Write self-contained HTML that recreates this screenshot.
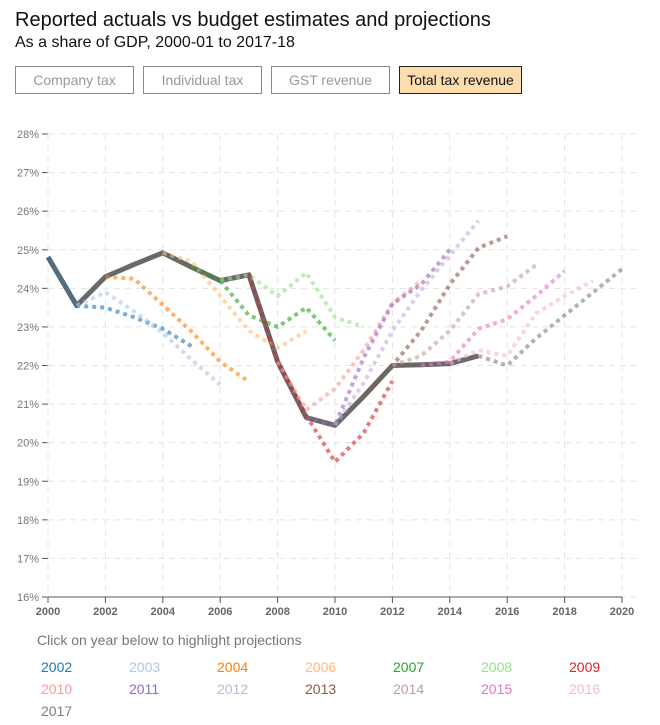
<!DOCTYPE html>
<html><head><meta charset="utf-8">
<style>
body{margin:0;background:#fff;font-family:"Liberation Sans",Arial,sans-serif;width:660px;height:725px;overflow:hidden;position:relative}
.t{position:absolute;left:15px;top:9px;font-size:20px;color:#111}
.s{position:absolute;left:15px;top:34px;font-size:16px;color:#111}
.b{position:absolute;top:66px;height:28px;border:1px solid #888;box-sizing:border-box;font-size:14px;color:#999;text-align:center;line-height:27px;background:#fff}
.b.on{background:#fddcae;color:#111;border-color:#222}
.hint{position:absolute;left:37px;top:632px;font-size:14px;color:#777}
.lg{position:absolute;font-size:14px}
</style></head><body>
<div class="t">Reported actuals vs budget estimates and projections</div>
<div class="s">As a share of GDP, 2000-01 to 2017-18</div>
<div class="b" style="left:15px;width:119px">Company tax</div>
<div class="b" style="left:143px;width:119px">Individual tax</div>
<div class="b" style="left:271px;width:119px">GST revenue</div>
<div class="b on" style="left:399px;width:123px">Total tax revenue</div>
<svg id="c" width="660" height="725" style="position:absolute;left:0;top:0"></svg>
<div class="hint">Click on year below to highlight projections</div>
<div id="leg"></div>
<script>
const years=[2002,2003,2004,2006,2007,2008,2009,2010,2011,2012,2013,2014,2015,2016,2017];
const colors=["#1f77b4","#aec7e8","#ff7f0e","#ffbb78","#2ca02c","#98df8a","#d62728","#ff9896","#9467bd","#c5b0d5","#8c564b","#c49c94","#e377c2","#f7b6d2","#7f7f7f"];
const startYears=[2000,2001,2002,2004,2005,2006,2007,2008,2009,2010,2011,2012,2013,2014,2015];
const p2002=[24.81,23.55,23.5,23.25,22.95,22.5];
const p2003=[23.55,23.9,23.4,22.85,22.15,21.5];
const p2004=[24.3,24.25,23.57,22.88,22.1,21.58];
const p2006=[24.92,24.7,23.8,22.9,22.45,22.9];
const p2007=[24.55,24.2,23.3,23.0,23.5,22.65];
const p2008=[24.2,24.35,23.8,24.4,23.25,23.0];
const p2009=[24.35,22.1,20.7,19.5,20.25,21.6];
const p2010=[22.1,20.85,21.4,22.4,23.6,24.2];
const p2011=[20.65,20.45,22.2,23.6,24.1,25.0];
const p2012=[20.45,21.55,22.9,23.95,24.85,25.75];
const p2013=[21.2,22.0,22.9,24.1,25.05,25.35];
const p2014=[22.0,22.25,22.9,23.85,24.05,24.6];
const p2015=[22.0,22.1,22.95,23.2,23.8,24.45];
const p2016=[22.05,22.4,22.25,23.35,23.8,24.2];
const p2017=[22.25,22.0,22.7,23.3,23.9,24.5];
const projections=[p2002,p2003,p2004,p2006,p2007,p2008,p2009,p2010,p2011,p2012,p2013,p2014,p2015,p2016,p2017];
const actualYears=[2000,2001,2002,2003,2004,2005,2006,2007,2008,2009,2010,2011,2012,2013,2014,2015];
const actuals=[24.81,23.55,24.3,24.62,24.92,24.55,24.2,24.35,22.1,20.65,20.45,21.2,22.0,22.02,22.05,22.25];
const yTicks=[16,17,18,19,20,21,22,23,24,25,26,27,28];
const xTicks=[2000,2002,2004,2006,2008,2010,2012,2014,2016,2018,2020];

const X0=48,X1=622,Y0=597,Y1=134;
const x=v=>X0+(v-2000)*(X1-X0)/20;
const y=v=>Y0-(v-16)*(Y0-Y1)/12;
const svg=document.getElementById('c');
const NS='http://www.w3.org/2000/svg';
function mk(t,a){const e=document.createElementNS(NS,t);for(const k in a)e.setAttribute(k,a[k]);svg.appendChild(e);return e;}
yTicks.forEach(v=>{
  const g=mk('line',{x1:X0,x2:640,y1:y(v),y2:y(v),stroke:'#e4e4e4','stroke-dasharray':'6,5'});
  
  
  const tk=mk('line',{x1:X0-6,x2:X0,y1:y(v),y2:y(v),stroke:'#555'});
  
  
  const t=mk('text',{x:X0-9,y:y(v)+4,'text-anchor':'end','font-size':'11',fill:'#777'});
  t.textContent=v+'%';
  
  
});
xTicks.forEach(v=>{
  const g=mk('line',{x1:x(v),x2:x(v),y1:Y1,y2:Y0,stroke:'#e4e4e4','stroke-dasharray':'6,5'});
  
  
  const tk=mk('line',{x1:x(v),x2:x(v),y1:Y0,y2:Y0+6,stroke:'#555'});
  
  
  const t=mk('text',{x:x(v),y:Y0+18,'text-anchor':'middle','font-size':'11','font-weight':'bold',fill:'#666'});
  t.textContent=v;
  
  
});
const ax=mk('line',{x1:X0,x2:X1,y1:Y0,y2:Y0,stroke:'#555'});


const ap=mk('polyline',{points:actuals.map((v,j)=>x(actualYears[j])+','+y(v)).join(' '),fill:'none',stroke:'#444','stroke-width':5,'stroke-opacity':0.8,'stroke-linejoin':'round'});


projections.forEach((arr,i)=>{
  const pts=arr.map((v,j)=>x(startYears[i]+j)+','+y(v)).join(' ');
  const p=mk('polyline',{points:pts,fill:'none',stroke:colors[i],'stroke-width':4,'stroke-dasharray':'4,4','stroke-opacity':0.6});
  
  
});
const leg=document.getElementById('leg');
years.forEach((yr,i)=>{
  const d=document.createElement('div');
  d.className='lg';
  d.style.left=(41+(i%7)*88)+'px';
  d.style.top=(659+Math.floor(i/7)*22)+'px';
  d.style.color=colors[i];
  d.textContent=yr;
  
  
  leg.appendChild(d);
});
</script>
</body></html>
